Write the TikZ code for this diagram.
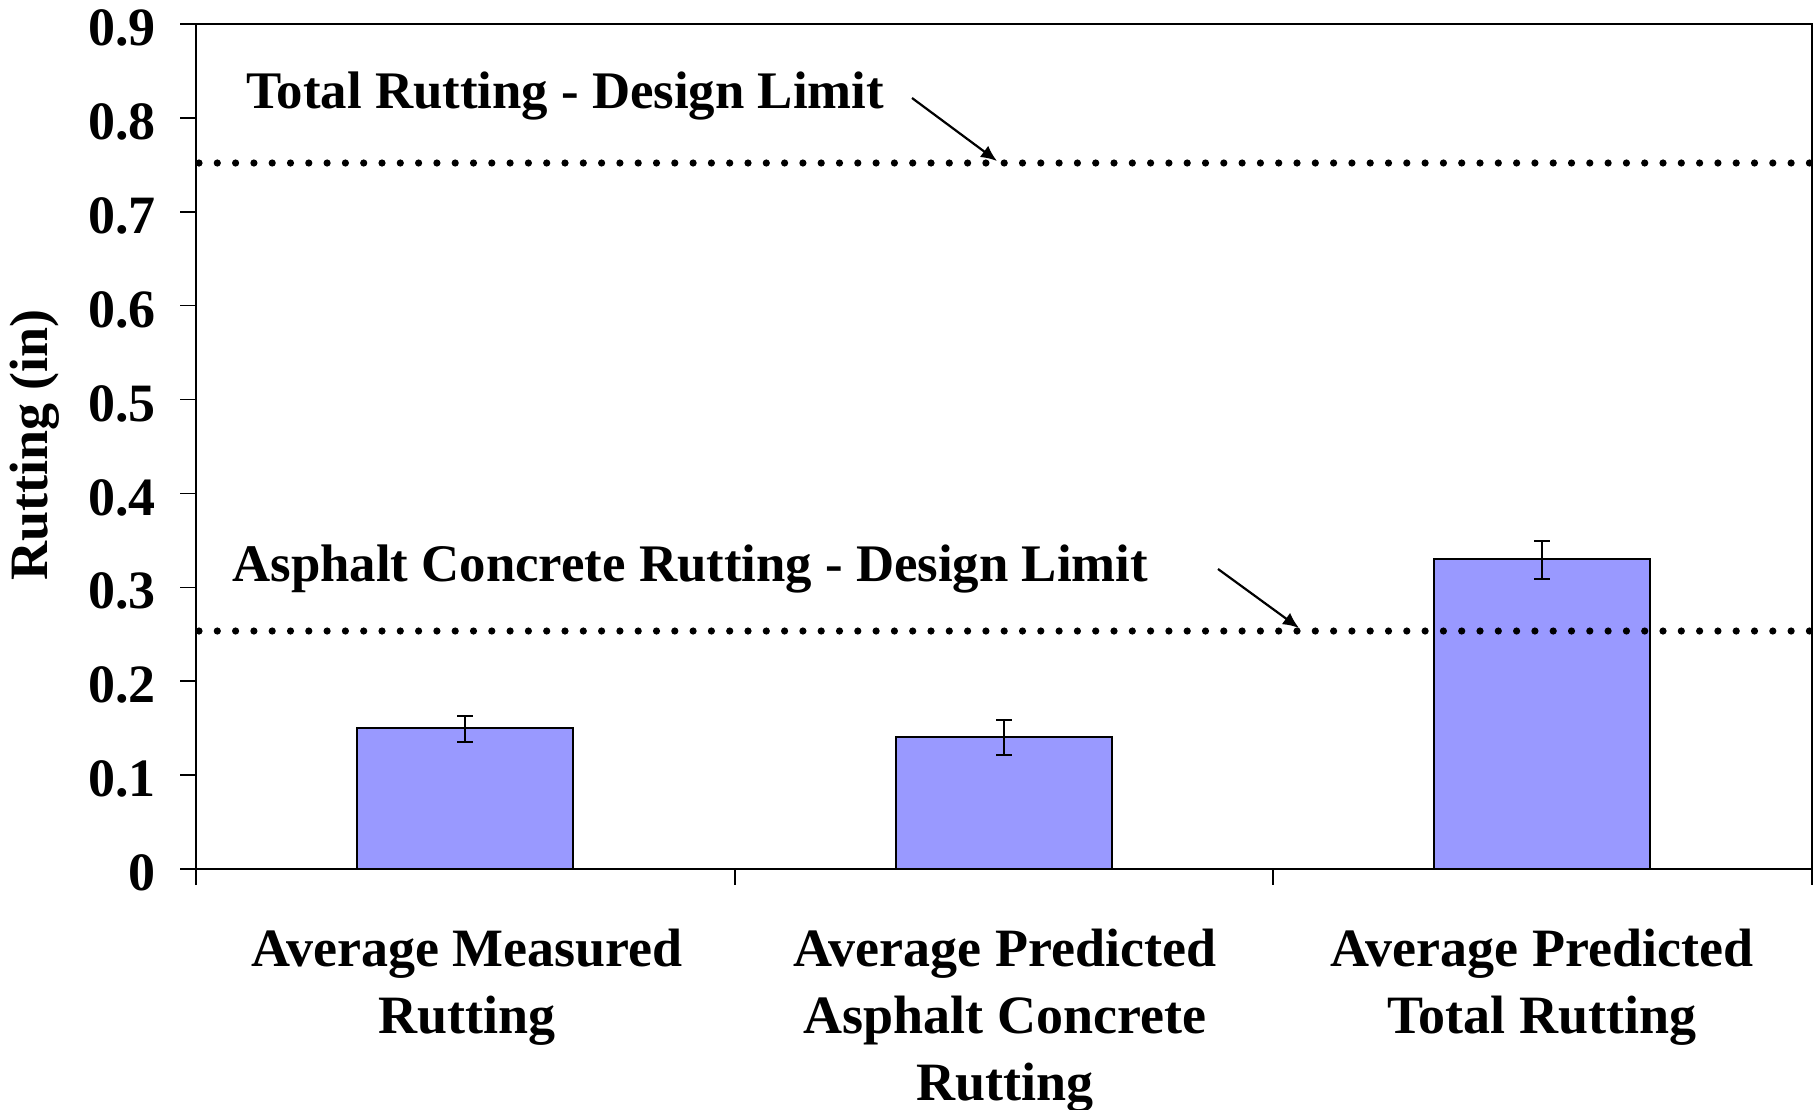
\documentclass[tikz,border=0pt]{standalone}
\usepackage{fontspec}
\setmainfont{Liberation Serif}
\usetikzlibrary{arrows.meta,positioning}
\definecolor{barblue}{HTML}{9999FF}
\tikzset{
    lbl/.style={inner sep=0pt, font=\bfseries\fontsize{27}{33.5}\selectfont},
    limlbl/.style={inner sep=0pt, font=\bfseries\fontsize{26.4}{32}\selectfont},
    rbar/.style={draw=black, line width=1pt, fill=barblue},
    limitln/.style={line width=3.6pt, line cap=round, dash pattern=on 0pt off 9.15pt},
    errbar/.style={line width=1pt},
    ptr/.style={line width=1.1pt, -{Latex[length=8pt, width=7pt]}}
}

\begin{document}
\begin{tikzpicture}[x=0.5pt, y=-0.5pt]
    \useasboundingbox (0,0) rectangle (1813,1109);
    % plot frame and axes
    \draw[line width=0.8pt] (196,885) -- (196,24) -- (1812,24) -- (1812,869);
    \draw[line width=0.8pt] (180,869) -- (1812,869);
    \foreach \x in {735,1273,1812}
        \draw[line width=0.8pt] (\x,869) -- (\x,885);
    \foreach \v/\t in {0/0,1/0.1,2/0.2,3/0.3,4/0.4,5/0.5,6/0.6,7/0.7,8/0.8,9/0.9}{
        \draw[line width=0.8pt] (180,869-\v*93.89) -- (196,869-\v*93.89);
        \node[lbl, anchor=east] (ytick\v) at (156,873-\v*93.89) {\t};
    }
    \node[lbl, rotate=90] (ylabel) at (35,445) {Rutting (in)};

    % bars
    \draw[rbar] (357,869) rectangle (573,728);
    \draw[rbar] (896,869) rectangle (1112,737);
    \draw[rbar] (1434,869) rectangle (1650,559);

    % error bars
    \draw[errbar] (465,716) -- (465,742) (457,716) -- (473,716) (457,742) -- (473,742);
    \draw[errbar] (1004,720) -- (1004,755) (996,720) -- (1012,720) (996,755) -- (1012,755);
    \draw[errbar] (1542,541) -- (1542,579) (1534,541) -- (1550,541) (1534,579) -- (1550,579);

    % design limits
    \draw[limitln] (199,163) -- (1812,163);
    \draw[limitln] (199,631) -- (1812,631);
    \node[limlbl, anchor=west] (totlim) at (246,96) {Total Rutting - Design Limit};
    \node[limlbl, anchor=west] (aclim) at (232,569) {Asphalt Concrete Rutting - Design Limit};
    \coordinate (totfrom) at (912,98);
    \coordinate (totto) at (997,161);
    \coordinate (acfrom) at (1218,569);
    \coordinate (acto) at (1299,628);
    \draw[ptr] (totfrom) -- (totto);
    \draw[ptr] (acfrom) -- (acto);

    % category labels
    \node[lbl, align=center, anchor=north] (catA) at (467,929) {Average Measured\\Rutting};
    \node[lbl, align=center, anchor=north] (catB) at (1005,929) {Average Predicted\\Asphalt Concrete\\Rutting};
    \node[lbl, align=center, anchor=north] (catC) at (1542,929) {Average Predicted\\Total Rutting};
\end{tikzpicture}
\end{document}
